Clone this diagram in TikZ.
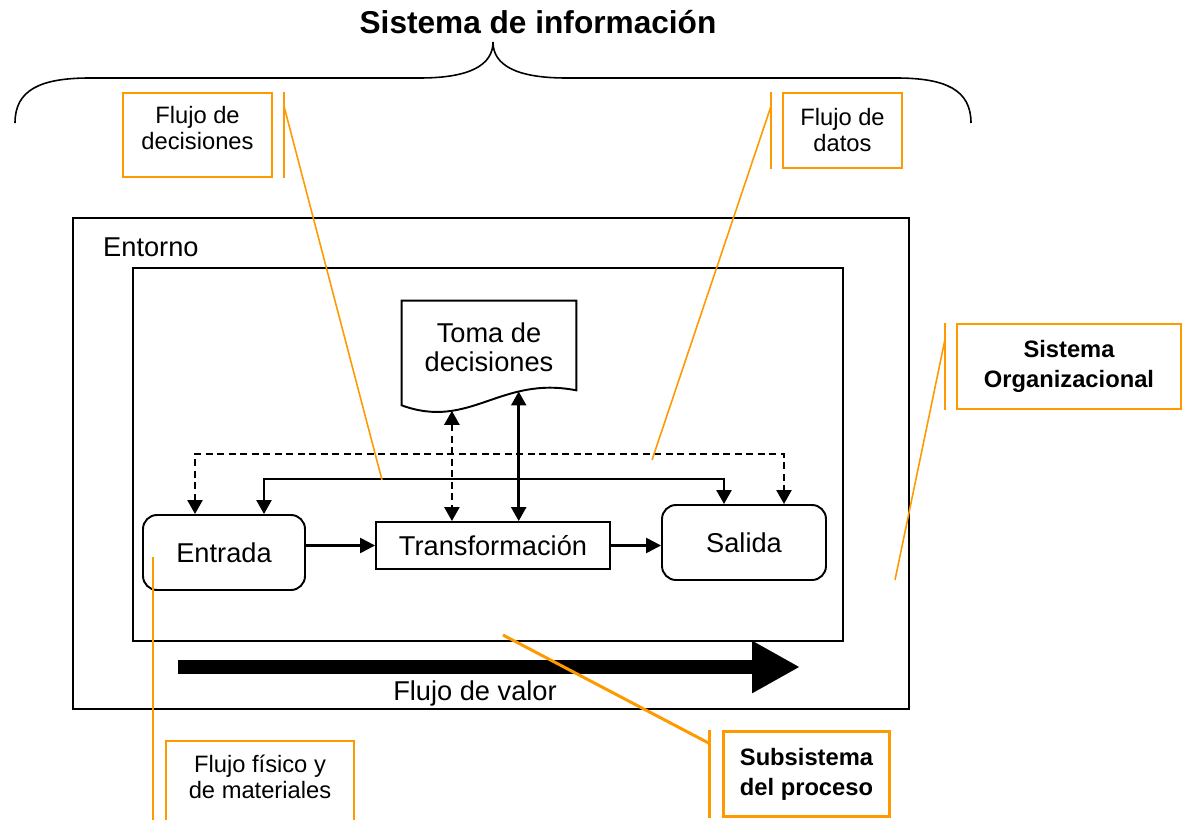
\documentclass[tikz,border=0pt]{standalone}
\usepackage{fontspec}
\setmainfont{Liberation Sans}
\usetikzlibrary{arrows.meta,calc}
\definecolor{naranja}{RGB}{255,153,0}

\begin{document}
\begin{tikzpicture}[x=0.02cm,y=-0.02cm,
    caja/.style={draw,line width=1.1pt,align=center,inner sep=0,font=\cajafontsize},
    nota/.style={draw=naranja,line width=1.1pt,align=center,inner sep=0,font=\notafontsize},
    guia/.style={draw=naranja,line width=0.9pt},
    flecha/.style={line width=1.4pt,-{Triangle[length=3mm,width=3mm]}},
    doble/.style={line width=1.4pt,{Triangle[length=2.8mm,width=3mm]}-{Triangle[length=2.8mm,width=3mm]}},
    punteado/.style={dash pattern=on 1.4mm off 0.9mm}]
    \providecommand{\titulofontsize}{\fontsize{18}{22}\selectfont\bfseries}
    \providecommand{\cajafontsize}{\fontsize{15.5}{16.5}\selectfont}
    \providecommand{\notafontsize}{\fontsize{13.5}{14.8}\selectfont}
    \providecommand{\notabfontsize}{\fontsize{13.5}{17}\selectfont\bfseries}
    \useasboundingbox (0,0) rectangle (1184,820);
    % titulo y llave
    \node[font=\titulofontsize] (titulo) at (538,22) {Sistema de información};
    \draw[line width=0.9pt] (15,123) .. controls (15,90) and (40,78) .. (90,78) -- (420,78)
        .. controls (470,78) and (493,65) .. (493,42) .. controls (493,65) and (516,78) .. (566,78)
        -- (896,78) .. controls (946,78) and (971,90) .. (971,123);
    % entorno y subsistema
    \draw[line width=1.1pt] (73,218) rectangle (909,709);
    \node[anchor=west,font=\cajafontsize] (entorno) at (97,247) {Entorno};
    \draw[line width=1.1pt] (133,268) rectangle (843,641);
    % toma de decisiones (documento)
    \node[minimum width=3.48cm,minimum height=1.86cm,align=center,font=\cajafontsize] (toma) at (489,347.5) {Toma de\\decisiones};
    \draw[line width=1.1pt] ($(toma.south west)+(0,11)$) -- (toma.north west) -- (toma.north east) -- ($(toma.south east)+(0,-4)$)
        .. controls ($(toma.south)+(11,-19)$) and ($(toma.south)+(-19,36)$) .. ($(toma.south west)+(0,11)$)
        coordinate[pos=0.72] (wd) coordinate[pos=0.295] (ws) -- cycle;
    % proceso
    \node[caja,rounded corners=2.8mm,minimum width=3.24cm,minimum height=1.5cm] (entrada) at (224,552.5) {Entrada};
    \node[caja,minimum width=4.68cm,minimum height=0.94cm] (transf) at (493,545.5) {Transformación};
    \node[caja,rounded corners=2.8mm,minimum width=3.28cm,minimum height=1.5cm] (salida) at (744,542.5) {Salida};
    \draw[flecha] (transf.west -| entrada.east) -- (transf.west);
    \draw[flecha] (transf.east) -- (transf.east -| salida.west);
    \draw[doble,punteado] ($(entrada.north)+(-29,0)$) |- ($(salida.north)+(40,-50)$) -- ($(salida.north)+(40,0)$);
    \draw[doble] ($(entrada.north)+(40,0)$) |- ($(salida.north)+(-20,-25)$) -- ($(salida.north)+(-20,0)$);
    \draw[doble,punteado] (wd) -- (wd |- transf.north);
    \draw[doble] (ws) -- (ws |- transf.north);
    % flujo de valor
    \coordinate (valor-ini) at (178,667);
    \coordinate (valor-fin) at (800,667);
    \draw[line width=2.9mm,-{Triangle[length=9.6mm,width=9.8mm]}] (valor-ini) -- (valor-fin);
    \node[font=\cajafontsize] (valor) at (475,693) {Flujo de valor};
    % notas
    \node[nota,minimum width=2.98cm,minimum height=1.68cm,text depth=0.28cm] (decis) at (197.5,135) {Flujo de\\decisiones};
    \node[nota,minimum width=2.38cm,minimum height=1.5cm] (datos) at (842.5,130.5) {Flujo de\\datos};
    \node[nota,font=\notabfontsize,minimum width=4.48cm,minimum height=1.7cm] (org) at (1069,366.5) {Sistema\\Organizacional};
    \node[nota,minimum width=3.76cm,minimum height=1.68cm,text depth=0.26cm] (fisico) at (260,783) {Flujo físico y\\de materiales};
    \node[nota,line width=1.7pt,font=\notabfontsize,minimum width=3.34cm,minimum height=1.72cm] (subsis) at (806.5,774) {Subsistema\\del proceso};
    % guias
    \coordinate (p-decis) at (382,480);
    \coordinate (p-datos) at (652,460);
    \coordinate (p-org) at (895,580);
    \coordinate (p-fisico) at (153,557);
    \coordinate (p-subsis) at (503,635);
    \draw[guia] ($(decis.north east)+(11,0)$) -- ($(decis.south east)+(11,0)$);
    \draw[guia] ($(decis.north east)+(11,14)$) -- (p-decis);
    \draw[guia] ($(datos.north west)+(-11,0)$) -- ($(datos.south west)+(-11,0)$);
    \draw[guia] ($(datos.north west)+(-11,14)$) -- (p-datos);
    \draw[guia] ($(org.north west)+(-11,0)$) -- ($(org.south west)+(-11,0)$);
    \draw[guia] ($(org.north west)+(-11,16)$) -- (p-org);
    \draw[guia] (p-fisico) -- (p-fisico |- fisico.south);
    \draw[guia,line width=1.7pt] ($(subsis.north west)+(-12,0)$) -- ($(subsis.south west)+(-12,0)$);
    \draw[guia,line width=1.7pt] ($(subsis.north west)+(-12,14)$) -- (p-subsis);
\end{tikzpicture}
\end{document}
